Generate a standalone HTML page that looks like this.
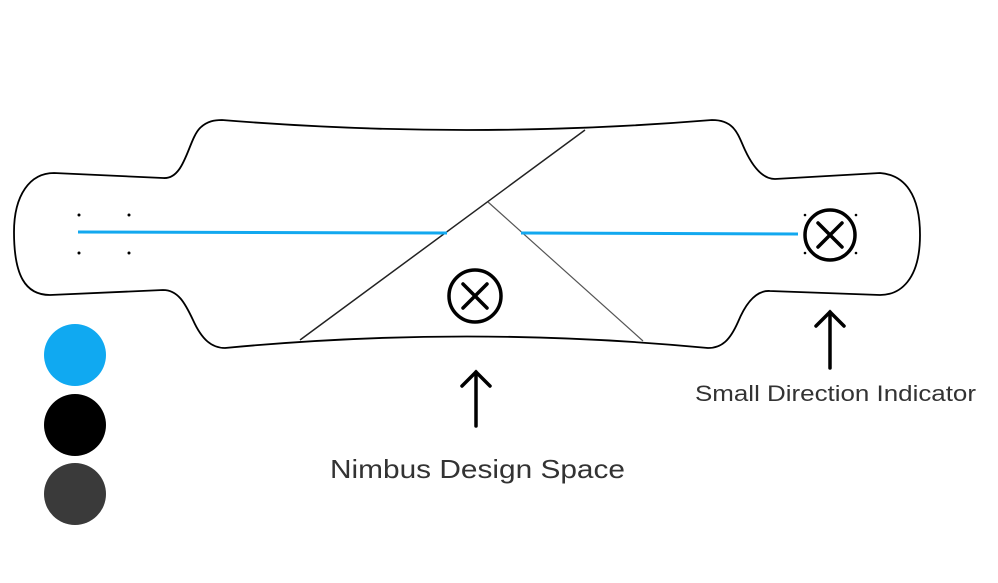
<!DOCTYPE html>
<html><head><style>body{margin:0;background:#fff}svg{display:block}</style></head><body>
<svg width="998" height="583" viewBox="0 0 998 583" xmlns="http://www.w3.org/2000/svg">
<path d="M54,173 L163,178 C185,180 188,140 200,128 C207,121 215,120 222,120 Q467,140 712,120 C735,120 738,135 745,150 C752,165 762,179 775,179 L880,173 C905,175 920,195 920,235 C920,280 900,295 880,295 L770,291 C755,290 745,305 738,322 C730,340 722,348 708,348 Q467,325 225,348 C212,348 202,340 193,320 C185,303 178,290 163,290 L50,295 C25,295 14,275 14,232 C14,195 30,173 54,173 Z" fill="none" stroke="#000" stroke-width="1.8"/>
<line x1="300" y1="340" x2="585" y2="130" stroke="#222" stroke-width="1.5"/>
<line x1="488" y1="202" x2="643" y2="341" stroke="#555" stroke-width="1.2"/>
<line x1="78" y1="232" x2="447" y2="233" stroke="#12a8ef" stroke-width="3"/>
<line x1="521" y1="233" x2="798" y2="234" stroke="#12a8ef" stroke-width="3"/>
<g fill="#000"><circle cx="79" cy="215" r="1.5"/><circle cx="129" cy="215" r="1.5"/><circle cx="79" cy="253" r="1.5"/><circle cx="129" cy="253" r="1.5"/>
<circle cx="805" cy="215" r="1.3"/><circle cx="856" cy="215" r="1.3"/><circle cx="805" cy="253" r="1.3"/><circle cx="856" cy="253" r="1.3"/></g>
<g fill="none" stroke="#000" stroke-width="3.5" stroke-linecap="round">
<circle cx="830" cy="235" r="25"/><line x1="818" y1="223" x2="842" y2="247"/><line x1="842" y1="223" x2="818" y2="247"/>
<circle cx="475" cy="296" r="26"/><line x1="463" y1="284" x2="487" y2="308"/><line x1="487" y1="284" x2="463" y2="308"/>
<line x1="830" y1="312" x2="830" y2="368"/><polyline points="816,326 830,312 844,326"/>
<line x1="476" y1="372" x2="476" y2="426"/><polyline points="462,386 476,372 490,386"/>
</g>
<text x="695" y="401" font-family="Liberation Sans, sans-serif" font-size="22" fill="#333" textLength="281" lengthAdjust="spacingAndGlyphs">Small Direction Indicator</text>
<text x="330" y="478" font-family="Liberation Sans, sans-serif" font-size="26" fill="#333" textLength="295" lengthAdjust="spacingAndGlyphs">Nimbus Design Space</text>
<circle cx="75" cy="355" r="31" fill="#10a9f1"/>
<circle cx="75" cy="425" r="31" fill="#000"/>
<circle cx="75" cy="494" r="31" fill="#3a3a3a"/>
</svg>
</body></html>
